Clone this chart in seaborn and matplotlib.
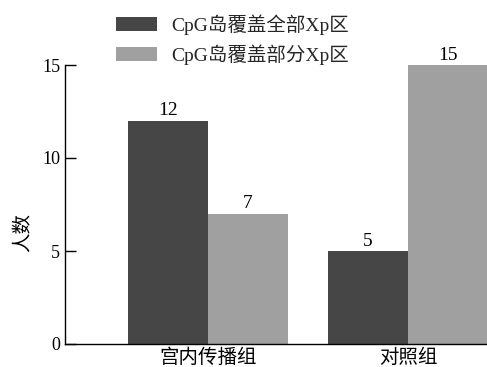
import matplotlib
matplotlib.use("Agg")
import matplotlib.pyplot as plt
import seaborn as sns
import pandas as pd

categories = ["宫内传播组", "对照组"]
series_names = ["CpG岛覆盖全部Xp区", "CpG岛覆盖部分Xp区"]
full_values = [12, 5]
part_values = [7, 15]
colors = ["#464646", "#a0a0a0"]
y_ticks = [0, 5, 10, 15]

df = pd.DataFrame({
    "组别": categories * 2,
    "系列": [series_names[0]] * 2 + [series_names[1]] * 2,
    "人数": full_values + part_values,
})

sns.set_theme(style="ticks")
plt.rcParams["font.family"] = ["Liberation Serif", "Noto Sans CJK SC"]

fig = plt.figure(figsize=(4.87, 3.67), dpi=100)
ax = fig.add_axes([65/487, 23/367, 1 - 65/487, 279/367])

sns.barplot(data=df, x="组别", y="人数", hue="系列", palette=colors,
            order=categories, hue_order=series_names, width=0.8,
            saturation=1, ax=ax, edgecolor="none")

for cont in ax.containers:
    ax.bar_label(cont, fontsize=14, padding=1, color="black")

ax.set_xlim(-0.715, 1.395)
ax.set_ylim(0, 15)
ax.set_yticks(y_ticks)
ax.set_xlabel("")
ax.set_ylabel("人数", fontsize=14, color="black")
ax.yaxis.set_label_coords(-0.078, 0.40)
ax.tick_params(axis="y", direction="in", length=8, width=1, labelsize=13, colors="black")
ax.tick_params(axis="x", direction="in", length=8, width=1, labelsize=14, colors="black")
for s in ["top", "right"]:
    ax.spines[s].set_visible(False)
for s in ["left", "bottom"]:
    ax.spines[s].set_color("black")
    ax.spines[s].set_linewidth(1)

leg = ax.legend(loc="upper left", bbox_to_anchor=(116/487, 1 - 14/367), bbox_transform=fig.transFigure,
                frameon=False, fontsize=14, handlelength=2.1, handleheight=0.75,
                labelspacing=0.5, handletextpad=0.75, borderaxespad=0, borderpad=0)
ax.set_facecolor("white")
fig.patch.set_facecolor("white")
fig.savefig("out.png", dpi=100)
